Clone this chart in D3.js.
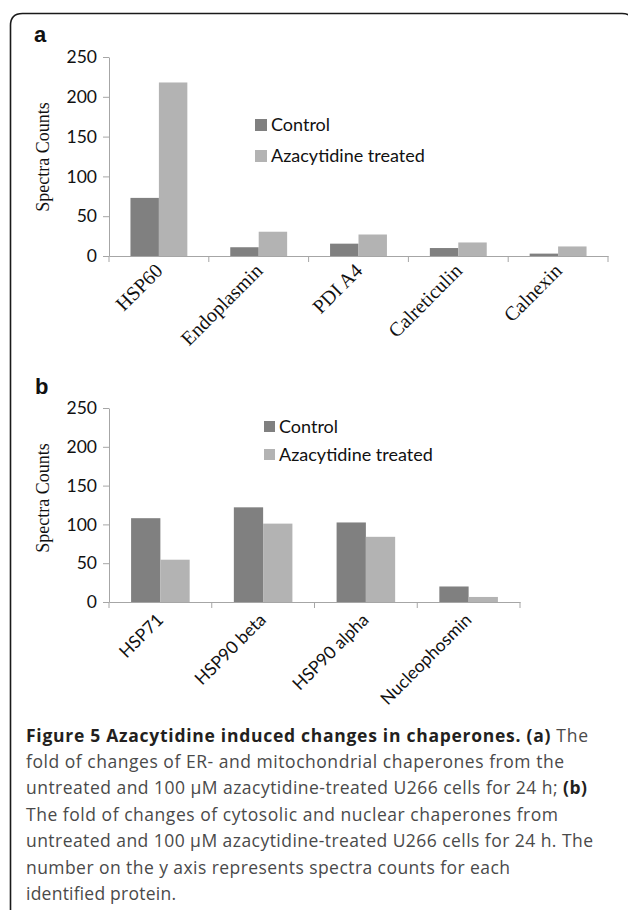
<!DOCTYPE html>
<html>
<head>
<meta charset="utf-8">
<script src="https://cdn.jsdelivr.net/npm/d3@7"></script>
<style>
  html, body { margin: 0; padding: 0; background: #fff; }
  svg { display: block; }
</style>
</head>
<body>
<svg id="fig" width="628" height="910"></svg>
<script>
(function(){

  // DATA ////////////////////////////////////////////////////////////////////

  var seriesNames = ["Control", "Azacytidine treated"];
  var yTicks = [0, 50, 100, 150, 200, 250];

  var catsA = ["HSP60", "Endoplasmin", "PDI A4", "Calreticulin", "Calnexin"];
  var controlA = [73, 11, 15.5, 10, 3];
  var treatedA = [218, 30.5, 27, 17, 12];

  var catsB = ["HSP71", "HSP90 beta", "HSP90 alpha", "Nucleophosmin"];
  var controlB = [108, 122, 102.5, 20];
  var treatedB = [54.5, 101, 84, 6.5];

  var captionLines = [
    [["Figure 5 Azacytidine induced changes in chaperones. (a)", true], [" The", false]],
    [["fold of changes of ER- and mitochondrial chaperones from the", false]],
    [["untreated and 100 \u00b5M azacytidine-treated U266 cells for 24 h; ", false], ["(b)", true]],
    [["The fold of changes of cytosolic and nuclear chaperones from", false]],
    [["untreated and 100 \u00b5M azacytidine-treated U266 cells for 24 h. The", false]],
    [["number on the y axis represents spectra counts for each", false]],
    [["identified protein.", false]]
  ];

  // STYLE ///////////////////////////////////////////////////////////////////

  var colors = ["#808080", "#b3b3b3"];
  var axisColor = "#a6a6a6";
  var sans = "Lato, 'Open Sans', sans-serif";
  var serif = "'Liberation Serif', 'DejaVu Serif', serif";

  // measured line widths of the caption in the figure
  var captionWidths = [562, 538, 561, 532, 567, 484, 150];

  var svg = d3.select("#fig");

  // frame box (runs off the right and bottom edges)
  var r = 12, fx = 10.5, fy = 13.5, fr = 634;
  svg.append("path")
    .attr("d", "M" + fx + ",930 L" + fx + "," + (fy + r) +
      " Q" + fx + "," + fy + " " + (fx + r) + "," + fy +
      " L" + (fr - r) + "," + fy +
      " Q" + fr + "," + fy + " " + fr + "," + (fy + r) +
      " L" + fr + ",930")
    .attr("fill", "none")
    .attr("stroke", "#1a1a1a")
    .attr("stroke-width", 1.6);

  // PANELS //////////////////////////////////////////////////////////////////

  function drawPanel(o){

    var g = svg.append("g");

    var x0 = d3.scaleBand().domain(o.cats).range([o.left, o.right])
      .paddingInner(0.43).paddingOuter(0.215);
    var x1 = d3.scaleBand().domain(seriesNames).range([0, x0.bandwidth()]);
    var y = d3.scaleLinear().domain([0, 250]).range([o.bottom, o.top]);

    // panel letter
    g.append("text")
      .attr("x", o.letterX).attr("y", o.letterY)
      .attr("font-family", "'Liberation Sans', Arial, sans-serif")
      .attr("font-weight", "bold")
      .attr("font-size", 22)
      .attr("fill", "#111")
      .text(o.letter);

    // bars
    var rows = o.cats.map(function(c, i){
      return { cat: c, values: [o.control[i], o.treated[i]] };
    });

    var groups = g.selectAll("g.grp").data(rows).enter().append("g")
      .attr("class", "grp")
      .attr("transform", function(d){ return "translate(" + x0(d.cat) + ",0)"; });

    groups.selectAll("rect")
      .data(function(d){ return d.values.map(function(v, j){ return { s: seriesNames[j], v: v, j: j }; }); })
      .enter().append("rect")
      .attr("x", function(d){ return x1(d.s); })
      .attr("width", x1.bandwidth())
      .attr("y", function(d){ return y(d.v); })
      .attr("height", function(d){ return o.bottom - y(d.v); })
      .attr("fill", function(d){ return colors[d.j]; });

    // y axis
    var yAxis = g.append("g")
      .attr("transform", "translate(" + o.left + ",0)")
      .call(d3.axisLeft(y).tickValues(yTicks).tickSize(6).tickPadding(6).tickSizeOuter(0));
    yAxis.select(".domain").attr("stroke", axisColor);
    yAxis.selectAll(".tick line").attr("stroke", axisColor);
    yAxis.selectAll(".tick text")
      .attr("font-family", sans).attr("font-size", 17.5).attr("fill", "#111");

    // x axis: line plus ticks between the categories
    var xAxis = g.append("g")
      .attr("transform", "translate(0," + o.bottom + ")")
      .call(d3.axisBottom(x0).tickSize(0).tickSizeOuter(0).tickFormat(""));
    xAxis.select(".domain").attr("stroke", axisColor);

    var bounds = d3.range(o.cats.length + 1).map(function(i){ return o.left + i * x0.step(); });
    xAxis.selectAll("line.sep").data(bounds).enter().append("line")
      .attr("class", "sep")
      .attr("x1", function(d){ return d; }).attr("x2", function(d){ return d; })
      .attr("y1", 0).attr("y2", 6)
      .attr("stroke", axisColor);

    // rotated category labels
    g.selectAll("text.cat").data(o.cats).enter().append("text")
      .attr("class", "cat")
      .attr("text-anchor", "end")
      .attr("transform", function(d){
        var cx = x0(d) + x0.bandwidth() / 2 + o.labelDx;
        return "translate(" + cx + "," + (o.bottom + o.labelDy) + ") rotate(-45)";
      })
      .attr("font-family", o.catFont)
      .attr("font-size", o.catSize)
      .attr("fill", "#111")
      .text(function(d){ return d; });

    // y axis title
    g.append("text")
      .attr("transform", "translate(" + o.titleX + "," + o.titleY + ") rotate(-90)")
      .attr("text-anchor", "middle")
      .attr("font-family", serif)
      .attr("font-size", 18)
      .attr("fill", "#111")
      .text("Spectra Counts");

    // legend
    var leg = g.selectAll("g.leg").data(seriesNames).enter().append("g")
      .attr("class", "leg")
      .attr("transform", function(d, i){ return "translate(" + o.legX + "," + (o.legY + i * o.legStep) + ")"; });
    leg.append("rect")
      .attr("x", 0).attr("y", -6).attr("width", o.legBox).attr("height", o.legBox)
      .attr("fill", function(d, i){ return colors[i]; });
    leg.append("text")
      .attr("x", o.legBox + 4).attr("y", 0).attr("dy", "0.35em")
      .attr("font-family", sans).attr("font-size", 18).attr("fill", "#111")
      .text(function(d){ return d; });
  }

  drawPanel({
    letter: "a", letterX: 34, letterY: 42,
    cats: catsA, control: controlA, treated: treatedA,
    left: 109, right: 608, top: 57, bottom: 256,
    catFont: serif, catSize: 20, labelDx: 5, labelDy: 16,
    titleX: 49, titleY: 157,
    legX: 255, legY: 125, legStep: 31, legBox: 12
  });

  drawPanel({
    letter: "b", letterX: 35, letterY: 394,
    cats: catsB, control: controlB, treated: treatedB,
    left: 109, right: 520, top: 408, bottom: 602,
    catFont: sans, catSize: 17.5, labelDx: 4, labelDy: 19,
    titleX: 49, titleY: 498,
    legX: 264, legY: 427, legStep: 28, legBox: 11
  });

  // CAPTION /////////////////////////////////////////////////////////////////

  var cap = svg.append("g")
    .attr("font-family", "'Open Sans', 'Noto Sans', sans-serif")
    .attr("font-size", 17.5);

  captionLines.forEach(function(parts, i){
    var t = cap.append("text")
      .attr("x", 26).attr("y", 741.5 + i * 26.4)
      .attr("textLength", captionWidths[i])
      .attr("lengthAdjust", "spacing");
    parts.forEach(function(p){
      t.append("tspan")
        .attr("font-weight", p[1] ? "bold" : "normal")
        .attr("fill", p[1] ? "#231f20" : "#4a4a4a")
        .text(p[0]);
    });
  });

})();
</script>
</body>
</html>
